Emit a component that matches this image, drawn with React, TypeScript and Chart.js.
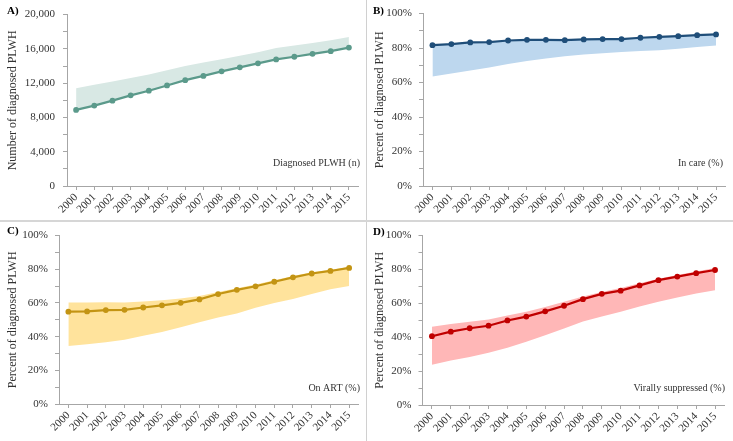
import React, { useEffect, useRef } from 'react';
import { Chart, registerables } from 'chart.js';
Chart.register(...registerables);

const years = ['2000', '2001', '2002', '2003', '2004', '2005', '2006', '2007', '2008', '2009', '2010', '2011', '2012', '2013', '2014', '2015'];

// A) Diagnosed PLWH (n)
const diagnosedN = [8880, 9380, 9960, 10580, 11120, 11730, 12350, 12850, 13380, 13850, 14310, 14770, 15080, 15420, 15730, 16150];
const diagnosedUpper = [11400, 11800, 12200, 12600, 13000, 13500, 14000, 14400, 14800, 15200, 15600, 16100, 16400, 16700, 17000, 17400];

// B) In care (%)
const inCare = [81.7, 82.3, 83.3, 83.5, 84.4, 84.8, 84.8, 84.6, 85.0, 85.2, 85.2, 86.0, 86.5, 86.9, 87.5, 87.9];
const inCareLower = [63.5, 65.2, 67.0, 68.7, 70.7, 72.5, 74.0, 75.2, 76.3, 77.0, 77.7, 78.3, 78.7, 79.6, 80.6, 81.5];

// C) On ART (%)
const onArt = [54.8, 55.0, 55.8, 55.9, 57.3, 58.6, 60.1, 62.1, 65.3, 67.8, 69.9, 72.6, 75.2, 77.5, 79.0, 80.8];
const onArtUpper = [60.2, 60.2, 60.4, 60.2, 60.8, 61.6, 62.6, 64.2, 66.5, 68.8, 71.0, 73.5, 76.0, 78.2, 79.7, 81.3];
const onArtLower = [34.4, 35.5, 36.7, 38.2, 40.5, 42.8, 45.6, 48.5, 51.4, 53.8, 57.1, 60.0, 62.4, 65.3, 68.2, 70.1];

// D) Virally suppressed (%)
const suppressed = [40.6, 43.3, 45.3, 46.8, 49.9, 52.2, 55.3, 58.6, 62.5, 65.6, 67.5, 70.6, 73.7, 75.8, 77.8, 79.7];
const suppressedUpper = [46.2, 47.8, 49.2, 50.5, 52.8, 55.0, 57.8, 61.0, 64.0, 66.7, 69.0, 71.8, 74.5, 76.8, 78.8, 80.8];
const suppressedLower = [23.8, 26.2, 28.4, 30.8, 33.8, 37.3, 41.2, 45.2, 49.3, 52.3, 55.1, 58.2, 61.0, 63.5, 65.8, 67.7];

const FONT = "'Liberation Serif', 'Times New Roman', serif";
const TEXT = '#333333';
const AXIS = '#a6a6a6';

type Panel = {
  letter: string;
  inLabel: string;
  title: string;
  line: number[];
  upper: number[];
  lower: number[];
  color: string;
  band: string;
  max: number;
  step: number;
  pct: boolean;
  box: { left: number; top: number; w: number; h: number };
  yw: number;
  xh: number;
  padTop: number;
  padRight: number;
  tickPad: number;
  letterPos: [number, number];
  labelPos: [number, number];
};

const panels: Panel[] = [
  {
    letter: 'A)', inLabel: 'Diagnosed PLWH (n)', title: 'Number of diagnosed PLWH',
    line: diagnosedN, upper: diagnosedUpper, lower: diagnosedN,
    color: '#5b9a8b', band: '#d8e8e4', max: 20000, step: 2000, pct: false,
    box: { left: 0, top: 0, w: 366, h: 220 }, yw: 67, xh: 34, padTop: 12, padRight: 8, tickPad: 8,
    letterPos: [7, 11], labelPos: [360, 163],
  },
  {
    letter: 'B)', inLabel: 'In care (%)', title: 'Percent of diagnosed PLWH',
    line: inCare, upper: inCare, lower: inCareLower,
    color: '#1f4e79', band: '#bdd7ee', max: 100, step: 10, pct: true,
    box: { left: 367, top: 0, w: 366, h: 220 }, yw: 56, xh: 34, padTop: 12, padRight: 7.5, tickPad: 7,
    letterPos: [6, 11], labelPos: [356, 163],
  },
  {
    letter: 'C)', inLabel: 'On ART (%)', title: 'Percent of diagnosed PLWH',
    line: onArt, upper: onArtUpper, lower: onArtLower,
    color: '#c39413', band: '#ffe39c', max: 100, step: 10, pct: true,
    box: { left: 0, top: 222, w: 366, h: 219 }, yw: 59, xh: 37, padTop: 9, padRight: 7.5, tickPad: 7,
    letterPos: [7, 9], labelPos: [360, 166],
  },
  {
    letter: 'D)', inLabel: 'Virally suppressed (%)', title: 'Percent of diagnosed PLWH',
    line: suppressed, upper: suppressedUpper, lower: suppressedLower,
    color: '#c00000', band: '#ffb7b7', max: 100, step: 10, pct: true,
    box: { left: 367, top: 222, w: 366, h: 219 }, yw: 55.5, xh: 36, padTop: 10.5, padRight: 8.5, tickPad: 7,
    letterPos: [6, 10], labelPos: [358, 166],
  },
];

function PanelChart({ p }: { p: Panel }) {
  const ref = useRef<HTMLCanvasElement>(null);
  useEffect(() => {
    if (!ref.current) return;
    const textPlugin = {
      id: 'panelText',
      afterDraw(chart: any) {
        const ctx = chart.ctx;
        ctx.save();
        ctx.fillStyle = '#000';
        ctx.font = `bold 11px ${FONT}`;
        ctx.textAlign = 'left';
        ctx.textBaseline = 'middle';
        ctx.fillText(p.letter, p.letterPos[0], p.letterPos[1]);
        ctx.fillStyle = TEXT;
        ctx.font = `10px ${FONT}`;
        ctx.textAlign = 'right';
        ctx.fillText(p.inLabel, p.labelPos[0], p.labelPos[1]);
        ctx.restore();
      },
    };
    const chart = new Chart(ref.current, {
      type: 'line',
      data: {
        labels: years,
        datasets: [
          {
            data: p.line,
            borderColor: p.color,
            backgroundColor: p.color,
            borderWidth: 2.2,
            pointRadius: 2.9,
            pointBackgroundColor: p.color,
            pointBorderColor: p.color,
            pointBorderWidth: 0,
            fill: false,
            tension: 0,
          },
          {
            data: p.upper,
            borderColor: 'rgba(0,0,0,0)',
            borderWidth: 0,
            pointRadius: 0,
            backgroundColor: p.band,
            fill: '+1',
            tension: 0,
          },
          {
            data: p.lower,
            borderColor: 'rgba(0,0,0,0)',
            borderWidth: 0,
            pointRadius: 0,
            fill: false,
            tension: 0,
          },
        ],
      },
      options: {
        responsive: false,
        animation: false,
        layout: { padding: { top: p.padTop, right: p.padRight, left: 0, bottom: 0 } },
        plugins: { legend: { display: false }, tooltip: { enabled: false } },
        scales: {
          x: {
            offset: true,
            grid: { drawOnChartArea: false, offset: false, tickLength: 4, color: AXIS },
            border: { color: AXIS },
            ticks: {
              autoSkip: false, minRotation: 45, maxRotation: 45, padding: 1,
              color: TEXT, font: { family: FONT, size: 11 },
            },
            afterFit: (s: any) => { s.height = p.xh; },
          },
          y: {
            min: 0, max: p.max,
            grid: { drawOnChartArea: false, tickLength: 4, color: AXIS },
            border: { color: AXIS },
            ticks: {
              stepSize: p.step, autoSkip: false, padding: p.tickPad,
              color: TEXT, font: { family: FONT, size: 11 },
              callback: (v: any) => {
                const n = Number(v);
                if (Math.round(n / p.step) % 2 !== 0) return '';
                return p.pct ? `${n}%` : n.toLocaleString('en-US');
              },
            },
            title: {
              display: true, text: p.title, color: TEXT,
              font: { family: FONT, size: 12 }, padding: { top: 6, bottom: 0 },
            },
            afterFit: (s: any) => { s.width = p.yw; },
          },
        },
      },
      plugins: [textPlugin],
    });
    return () => chart.destroy();
  }, [p]);
  return (
    <canvas
      ref={ref}
      width={p.box.w}
      height={p.box.h}
      style={{ position: 'absolute', left: p.box.left, top: p.box.top, width: p.box.w, height: p.box.h }}
    />
  );
}

export default function App() {
  return (
    <div style={{ position: 'fixed', left: 0, top: 0, width: 733, height: 441, background: '#fff', overflow: 'hidden' }}>
      {panels.map((p) => (
        <PanelChart key={p.letter} p={p} />
      ))}
      <div style={{ position: 'absolute', left: 366, top: 0, width: 1, height: 441, background: '#d0d0d0' }} />
      <div style={{ position: 'absolute', left: 0, top: 220, width: 733, height: 2, background: '#d6d6d6' }} />
    </div>
  );
}
